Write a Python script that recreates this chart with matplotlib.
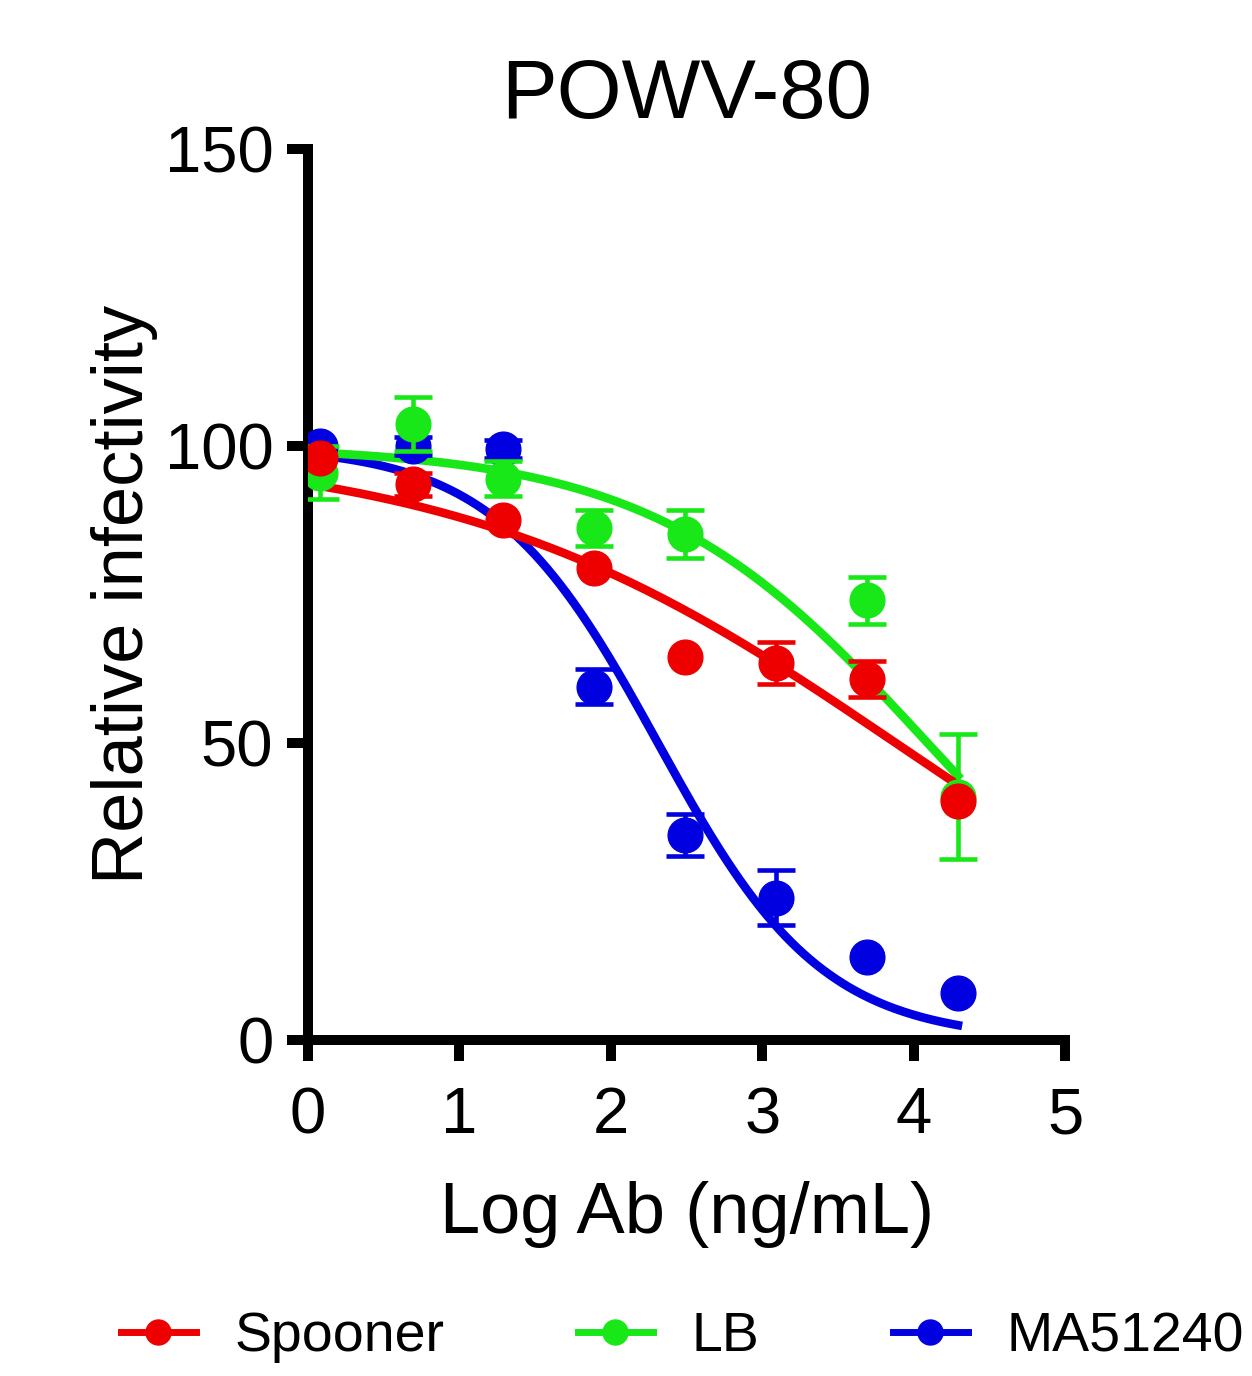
import numpy as np
import matplotlib
matplotlib.use('Agg')
from matplotlib import pyplot as plt
from matplotlib.lines import Line2D

plt.rcParams['font.family'] = ['Liberation Sans', 'DejaVu Sans']

# log10 antibody concentration (4-fold dilutions)
log_ab = [0.08, 0.69, 1.29, 1.89, 2.49, 3.09, 3.69, 4.29]

spooner = [98, 93.5, 87.5, 79.5, 64.5, 63.5, 60.8, 40.3]
spooner_err = [0, 2, 0, 0, 0, 3.5, 3, 0]

lb_x = [0.08, 0.69, 1.29, 1.89, 2.49, 3.69, 4.29]
lb = [95.5, 103.7, 94.5, 86.2, 85.2, 74, 41]
lb_err = [4.5, 4.5, 3, 3, 4, 4, 10.5]

ma51240 = [100, 100, 99.5, 59.5, 34.5, 24, 14, 8]
ma51240_err = [0, 1.5, 1.5, 3, 3.5, 4.6, 0, 0]

# fitted 4-parameter logistic curves: top, bottom, logIC50, hill slope
fits = {
    'Spooner': (100, 0, 3.88, 0.30),
    'LB': (100, 0, 4.09, 0.48),
    'MA51240': (100, 0, 2.31, 0.80),
}

colors = {'Spooner': '#ee0000', 'LB': '#18e818', 'MA51240': '#0000e0'}


def logistic(x, top, bottom, c, h):
    return bottom + (top - bottom) / (1 + 10 ** ((x - c) * h))


fig = plt.figure(figsize=(12.52, 13.76), dpi=100)
ax = fig.add_axes([0.246, 0.244, 0.605, 0.648])

series = [
    ('MA51240', log_ab, ma51240, ma51240_err),
    ('LB', lb_x, lb, lb_err),
    ('Spooner', log_ab, spooner, spooner_err),
]

xs = np.linspace(log_ab[0], log_ab[-1], 200)
for name, x, y, err in series:
    ax.plot(xs, logistic(xs, *fits[name]), color=colors[name], lw=6.2, zorder=2)

for name, x, y, err in series:
    c = colors[name]
    # error bars only where there is a visible error
    ex = [a for a, e in zip(x, err) if e > 0]
    ey = [b for b, e in zip(y, err) if e > 0]
    ee = [e for e in err if e > 0]
    ax.errorbar(ex, ey, yerr=ee, fmt='none', ecolor=c, elinewidth=3.3,
                capsize=14, capthick=3.3, zorder=3)
    ax.plot(x, y, 'o', color=c, ms=25, zorder=3)

ax.set_xlim(0, 5)
ax.set_ylim(0, 150)
ax.set_xticks([0, 1, 2, 3, 4, 5])
ax.set_yticks([0, 50, 100, 150])
for s in ['top', 'right']:
    ax.spines[s].set_visible(False)
for s in ['left', 'bottom']:
    ax.spines[s].set_linewidth(7.2)
ax.tick_params(axis='both', width=7.2, length=15, labelsize=47)
ax.tick_params(axis='y', pad=10)
ax.tick_params(axis='x', pad=18)

ax.set_title('POWV-80', fontsize=60, pad=22)
ax.set_xlabel('Log Ab (ng/mL)', fontsize=52, labelpad=25)
ax.set_ylabel('Relative infectivity', fontsize=52, labelpad=5)

handles = [Line2D([], [], color=colors[n], lw=5, marker='o', ms=18)
           for n in ['Spooner', 'LB', 'MA51240']]
fig.legend(handles, ['Spooner', 'LB', 'MA51240'], loc='center',
           bbox_to_anchor=(0.545, 0.028), ncol=3, frameon=False,
           fontsize=40, handlelength=1.35, handletextpad=0.7,
           columnspacing=2.4)

fig.savefig('out.png', dpi=100)
